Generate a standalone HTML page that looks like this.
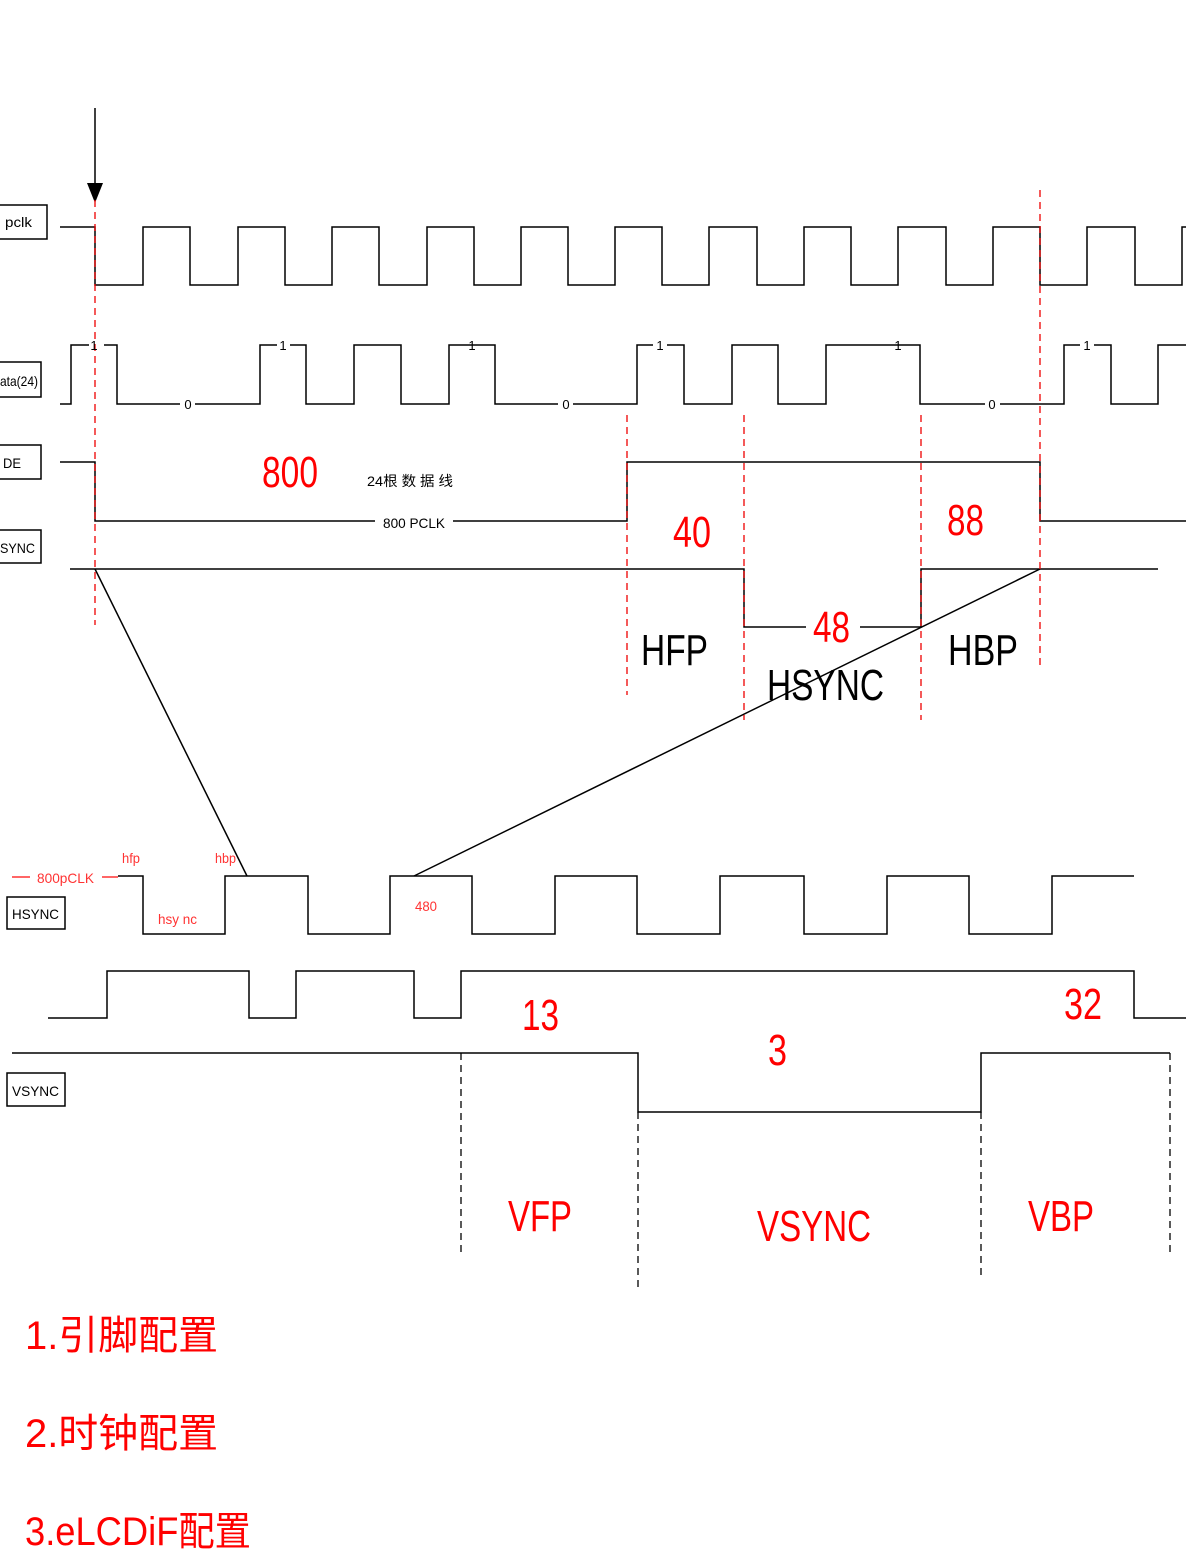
<!DOCTYPE html>
<html><head><meta charset="utf-8"><style>
html,body{margin:0;padding:0;background:#fff;}
svg{display:block;}
text{font-family:"Liberation Sans","Noto Sans CJK SC",sans-serif;}
</style></head><body>
<svg width="1186" height="1555" viewBox="0 0 1186 1555" xmlns="http://www.w3.org/2000/svg">
<g fill="none" stroke="#000" stroke-width="1.5">
<!-- pclk -->
<polyline points="60,227 95,227 95,285 143,285 143,227 190,227 190,285 238,285 238,227 285,227 285,285 332,285 332,227 379,227 379,285 427,285 427,227 474,227 474,285 521,285 521,227 568,227 568,285 615,285 615,227 662,227 662,285 709,285 709,227 757,227 757,285 804,285 804,227 851,227 851,285 898,285 898,227 946,227 946,285 993,285 993,227 1040,227 1040,285 1087,285 1087,227 1135,227 1135,285 1182,285 1182,227 1186,227"/>
<!-- data -->
<polyline points="60,404 71,404 71,345 89,345"/>
<polyline points="104,345 117,345 117,404 180,404"/>
<polyline points="195,404 260,404 260,345 277,345"/>
<polyline points="290,345 306,345 306,404 354,404 354,345 401,345 401,404 449,404 449,345 495,345 495,404 558,404"/>
<polyline points="573,404 637,404 637,345 653,345"/>
<polyline points="667,345 684,345 684,404 732,404 732,345 778,345 778,404 826,404 826,345 920,345 920,404 985,404"/>
<polyline points="1000,404 1064,404 1064,345 1080,345"/>
<polyline points="1094,345 1111,345 1111,404 1158,404 1158,345 1186,345"/>
<!-- DE -->
<polyline points="60,462 95,462 95,521 375,521"/>
<polyline points="453,521 627,521 627,462 1040,462 1040,521 1186,521"/>
<!-- HSYNC top -->
<polyline points="70,569 744,569 744,627 806,627"/>
<polyline points="860,627 921,627 921,569 1158,569"/>
<!-- diagonals -->
<line x1="95" y1="569" x2="247" y2="876"/>
<line x1="1040" y1="569" x2="414" y2="876"/>
<!-- arrow -->
<line x1="95" y1="108" x2="95" y2="186"/>
<!-- bottom HSYNC -->
<polyline points="118,876 143,876 143,934 225,934 225,876 308,876 308,934 390,934 390,876 472,876 472,934 555,934 555,876 637,876 637,934 720,934 720,876 804,876 804,934 887,934 887,876 969,876 969,934 1052,934 1052,876 1134,876"/>
<!-- row -->
<polyline points="48,1018 107,1018 107,971 249,971 249,1018 296,1018 296,971 414,971 414,1018 461,1018 461,971 1134,971 1134,1018 1186,1018"/>
<!-- VSYNC -->
<polyline points="12,1053 638,1053 638,1112 981,1112 981,1053 1170,1053"/>
<!-- boxes -->
<rect x="-2" y="205" width="49" height="34"/>
<rect x="-2" y="362" width="43" height="35"/>
<rect x="-2" y="445" width="43" height="34"/>
<rect x="-2" y="530" width="43" height="33"/>
<rect x="7" y="897" width="58" height="32"/>
<rect x="7" y="1073" width="58" height="33"/>
</g>
<polygon points="87,183 103,183 95,203" fill="#000"/>
<g stroke="#e00" stroke-width="1.3" stroke-dasharray="7,5" fill="none">
<line x1="95" y1="200" x2="95" y2="625"/>
<line x1="627" y1="415" x2="627" y2="695"/>
<line x1="744" y1="415" x2="744" y2="720"/>
<line x1="921" y1="415" x2="921" y2="720"/>
<line x1="1040" y1="190" x2="1040" y2="665"/>
</g>
<g stroke="#000" stroke-width="1.3" stroke-dasharray="7,5" fill="none">
<line x1="461" y1="1053" x2="461" y2="1253"/>
<line x1="638" y1="1112" x2="638" y2="1290"/>
<line x1="981" y1="1112" x2="981" y2="1278"/>
<line x1="1170" y1="1053" x2="1170" y2="1253"/>
</g>
<g stroke="#f33" stroke-width="1.5"><line x1="12" y1="877" x2="30" y2="877"/><line x1="102" y1="877" x2="118" y2="877"/></g>
<g font-size="14" fill="#000">
<text x="5" y="227" textLength="27" lengthAdjust="spacingAndGlyphs">pclk</text>
<text x="0" y="386" textLength="38" lengthAdjust="spacingAndGlyphs">ata(24)</text>
<text x="3" y="468" textLength="18" lengthAdjust="spacingAndGlyphs">DE</text>
<text x="0" y="553" textLength="35" lengthAdjust="spacingAndGlyphs">SYNC</text>
<text x="12" y="919" textLength="47" lengthAdjust="spacingAndGlyphs">HSYNC</text>
<text x="12" y="1096" textLength="47" lengthAdjust="spacingAndGlyphs">VSYNC</text>
<text x="383" y="528" textLength="62" lengthAdjust="spacingAndGlyphs">800 PCLK</text>
<text x="367" y="486" textLength="86" lengthAdjust="spacingAndGlyphs">24根 数 据 线</text>
</g>
<g font-size="13" fill="#000" text-anchor="middle">
<text x="94" y="350">1</text><text x="283" y="350">1</text><text x="472" y="350">1</text><text x="660" y="350">1</text><text x="898" y="350">1</text><text x="1087" y="350">1</text>
<text x="188" y="409">0</text><text x="566" y="409">0</text><text x="992" y="409">0</text>
</g>
<g font-size="14" fill="#f33">
<text x="37" y="883" textLength="57" lengthAdjust="spacingAndGlyphs">800pCLK</text>
<text x="122" y="863" textLength="18" lengthAdjust="spacingAndGlyphs">hfp</text>
<text x="215" y="863" textLength="21" lengthAdjust="spacingAndGlyphs">hbp</text>
<text x="158" y="924" textLength="39" lengthAdjust="spacingAndGlyphs">hsy nc</text>
<text x="415" y="911" textLength="22" lengthAdjust="spacingAndGlyphs">480</text>
</g>
<g font-size="44" fill="#f00">
<text x="262" y="487" textLength="56" lengthAdjust="spacingAndGlyphs">800</text>
<text x="673" y="547" textLength="38" lengthAdjust="spacingAndGlyphs">40</text>
<text x="947" y="535" textLength="37" lengthAdjust="spacingAndGlyphs">88</text>
<text x="813" y="642" textLength="37" lengthAdjust="spacingAndGlyphs">48</text>
<text x="522" y="1030" textLength="37" lengthAdjust="spacingAndGlyphs">13</text>
<text x="1064" y="1019" textLength="38" lengthAdjust="spacingAndGlyphs">32</text>
<text x="768" y="1065" textLength="19" lengthAdjust="spacingAndGlyphs">3</text>
<text x="508" y="1231" textLength="64" lengthAdjust="spacingAndGlyphs">VFP</text>
<text x="757" y="1241" textLength="114" lengthAdjust="spacingAndGlyphs">VSYNC</text>
<text x="1028" y="1231" textLength="66" lengthAdjust="spacingAndGlyphs">VBP</text>
</g>
<g font-size="44" fill="#000">
<text x="641" y="665" textLength="67" lengthAdjust="spacingAndGlyphs">HFP</text>
<text x="767" y="700" textLength="117" lengthAdjust="spacingAndGlyphs">HSYNC</text>
<text x="948" y="665" textLength="70" lengthAdjust="spacingAndGlyphs">HBP</text>
</g>
<g font-size="40" fill="#f00">
<text x="25" y="1349" textLength="193" lengthAdjust="spacingAndGlyphs">1.引脚配置</text>
<text x="25" y="1447" textLength="193" lengthAdjust="spacingAndGlyphs">2.时钟配置</text>
<text x="25" y="1545" textLength="226" lengthAdjust="spacingAndGlyphs">3.eLCDiF配置</text>
</g>
</svg>
</body></html>
